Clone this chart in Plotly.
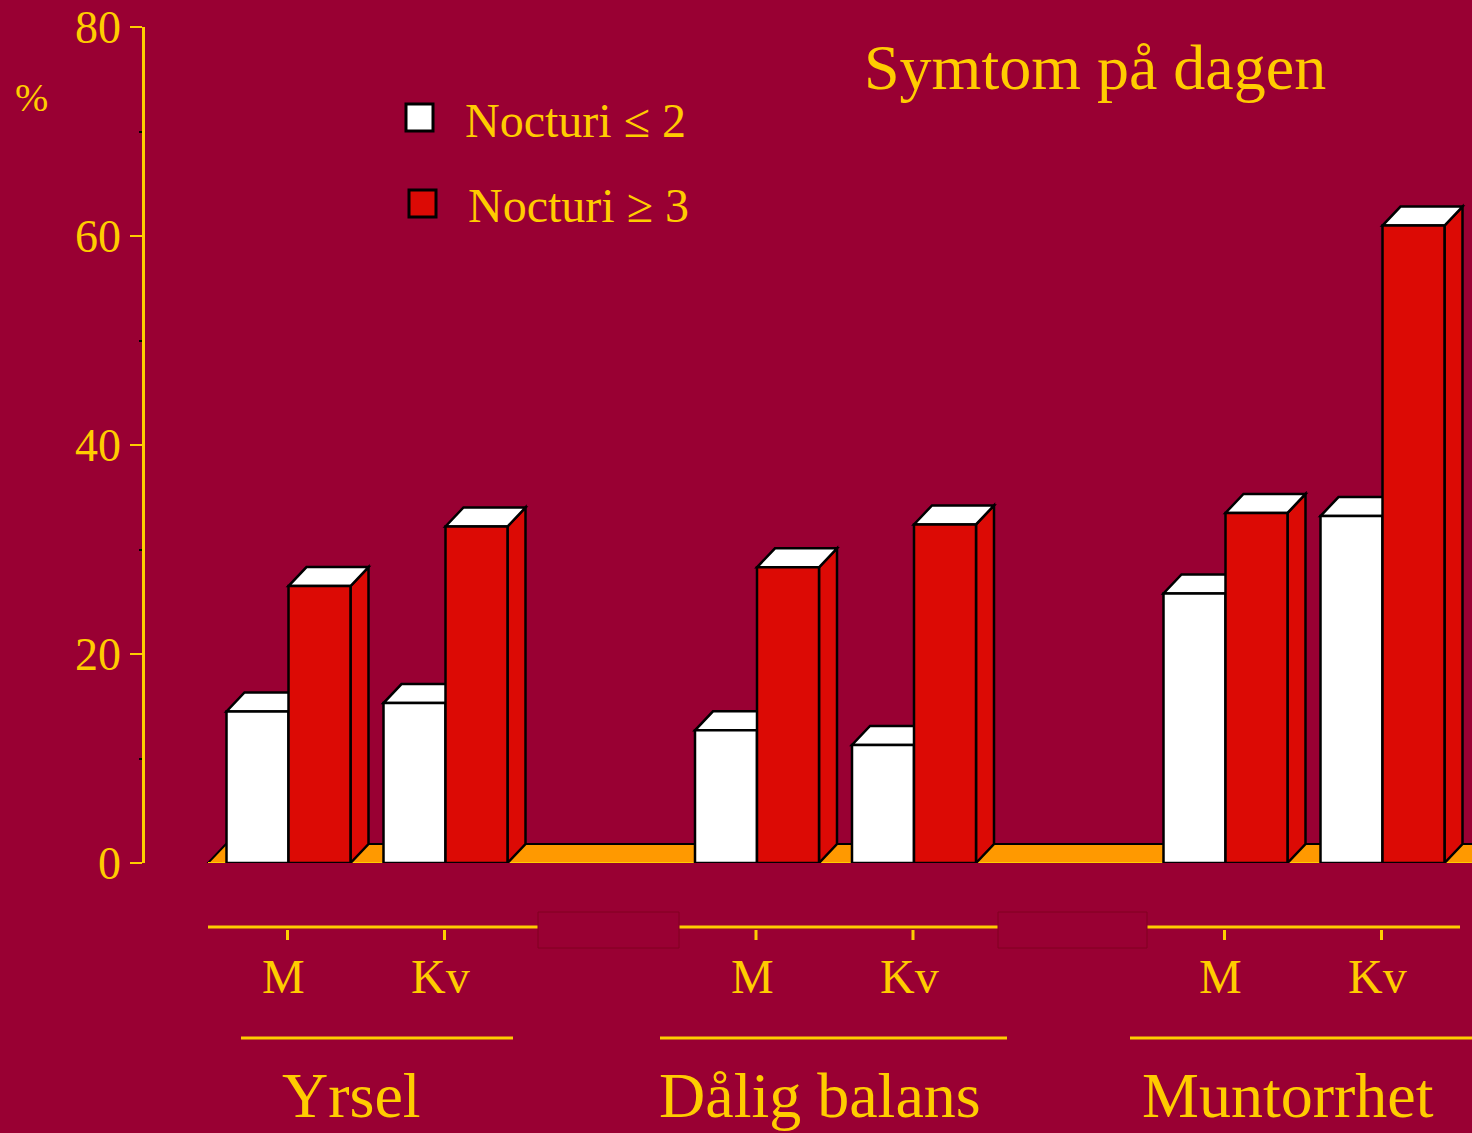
import plotly.graph_objects as go

# ---------------- data ----------------
groups = ["Yrsel", "Dålig balans", "Muntorrhet"]
sexes = ["M", "Kv"]
series_names = ["Nocturi \u2264 2", "Nocturi \u2265 3"]
white_vals = [14.5, 15.3, 12.7, 11.3, 25.8, 33.2]   # Nocturi <= 2  (M, Kv per group)
red_vals = [26.5, 32.2, 28.3, 32.4, 33.5, 61.0]     # Nocturi >= 3
y_ticks = [0, 20, 40, 60, 80]
title_text = "Symtom på dagen"
y_unit = "%"

# ---------------- style ----------------
BG = "#990033"
GOLD = "#FFCC00"
RED = "#DC0A05"
WHITE = "#FFFFFF"
ORANGE = "#FF9900"
FONT = "Liberation Serif"

FIG_W, FIG_H = 1472, 1133
M_L, M_T, M_B = 145, 27, 270
PLOT_W = FIG_W - M_L
PLOT_H = FIG_H - M_T - M_B
YMAX = 80

W = 62        # bar width (x units = px)
S = 157       # spacing between M and Kv pairs
G = 468.5     # spacing between groups
X0 = 81.5     # first bar left edge
DX = 18       # 3D depth in x
DY = 19 * YMAX / PLOT_H   # 3D depth in y units


def ppy(p):   # pixel y -> paper y
    return (FIG_H - M_B - p) / PLOT_H


def ppx(p):   # pixel x -> x data units
    return p - M_L


lefts = []
for g in range(len(groups)):
    for s in range(len(sexes)):
        lefts.append(X0 + g * G + s * S)
white_c = [l + W / 2 for l in lefts]
red_c = [l + 1.5 * W for l in lefts]

fig = go.Figure()
fig.add_trace(go.Bar(x=white_c, y=white_vals, width=W, name=series_names[0],
                     marker=dict(color=WHITE, line=dict(color="black", width=2.5)),
                     showlegend=False))
fig.add_trace(go.Bar(x=red_c, y=red_vals, width=W, name=series_names[1],
                     marker=dict(color=RED, line=dict(color="black", width=2.5)),
                     showlegend=False))

shapes = []
# floor
fx0 = ppx(208)
fx1 = PLOT_W + 50
shapes.append(dict(type="path", xref="x", yref="y", layer="below",
                   path=f"M {fx0},0 L {fx1},0 L {fx1 + DX},{DY} L {fx0 + DX},{DY} Z",
                   fillcolor=ORANGE, line=dict(color="black", width=2)))
shapes.append(dict(type="line", xref="x", yref="y", layer="below",
                   x0=fx0, x1=fx1, y0=0, y1=0, line=dict(color=GOLD, width=2)))

# 3D tops and sides
for i, l in enumerate(lefts):
    v = white_vals[i]
    x0, x1 = l, l + W
    shapes.append(dict(type="path", xref="x", yref="y", layer="below",
                       path=f"M {x0},{v} L {x1},{v} L {x1 + DX},{v + DY} L {x0 + DX},{v + DY} Z",
                       fillcolor=WHITE, line=dict(color="black", width=2.5)))
    v = red_vals[i]
    x0, x1 = l + W, l + 2 * W
    shapes.append(dict(type="path", xref="x", yref="y", layer="below",
                       path=f"M {x1},0 L {x1 + DX},{DY} L {x1 + DX},{v + DY} L {x1},{v} Z",
                       fillcolor=RED, line=dict(color="black", width=2.5)))
    shapes.append(dict(type="path", xref="x", yref="y", layer="below",
                       path=f"M {x0},{v} L {x1},{v} L {x1 + DX},{v + DY} L {x0 + DX},{v + DY} Z",
                       fillcolor=WHITE, line=dict(color="black", width=2.5)))

# category axis lines below
seg = [(208, 538), (679, 998), (1147, 1460)]
for a, b in seg:
    shapes.append(dict(type="line", xref="paper", yref="paper",
                       x0=(a - M_L) / PLOT_W, x1=(b - M_L) / PLOT_W,
                       y0=ppy(927), y1=ppy(927), line=dict(color=GOLD, width=3)))
for a, b in [(538, 679), (998, 1147)]:
    shapes.append(dict(type="rect", xref="paper", yref="paper",
                       x0=(a - M_L) / PLOT_W, x1=(b - M_L) / PLOT_W,
                       y0=ppy(948), y1=ppy(912), line=dict(color="#800020", width=1),
                       fillcolor="rgba(0,0,0,0)"))
for l in lefts:
    xc = (l + W - 1) / PLOT_W
    shapes.append(dict(type="line", xref="paper", yref="paper", x0=xc, x1=xc,
                       y0=ppy(930), y1=ppy(940), line=dict(color=GOLD, width=3)))
grp_lines = [(241, 513), (660, 1007), (1130, 1472)]
for a, b in grp_lines:
    shapes.append(dict(type="line", xref="paper", yref="paper",
                       x0=(a - M_L) / PLOT_W, x1=(b - M_L) / PLOT_W,
                       y0=ppy(1038), y1=ppy(1038), line=dict(color=GOLD, width=3)))

# legend squares
leg = [(406, 104, WHITE), (409, 190, RED)]
for (lx, ly, col) in leg:
    shapes.append(dict(type="rect", xref="paper", yref="paper",
                       x0=(lx - M_L) / PLOT_W, x1=(lx + 27 - M_L) / PLOT_W,
                       y0=ppy(ly + 27), y1=ppy(ly), fillcolor=col,
                       line=dict(color="black", width=3)))

annotations = []
for i, l in enumerate(lefts):
    annotations.append(dict(x=(l + W - 5) / PLOT_W, y=ppy(976), xref="paper", yref="paper",
                            text=sexes[i % 2], showarrow=False, xanchor="center", yanchor="middle",
                            font=dict(family=FONT, size=48, color=GOLD)))
for g, name in enumerate(groups):
    gc = X0 + g * G + (S + 2 * W) / 2
    annotations.append(dict(x=(gc - 16) / PLOT_W, y=ppy(1095), xref="paper", yref="paper",
                            text=name, showarrow=False, xanchor="center", yanchor="middle",
                            font=dict(family=FONT, size=64, color=GOLD)))
annotations.append(dict(x=(463 - M_L) / PLOT_W, y=ppy(121), xref="paper", yref="paper",
                        text=series_names[0], showarrow=False, xanchor="left", yanchor="middle",
                        font=dict(family=FONT, size=48, color=GOLD)))
annotations.append(dict(x=(466 - M_L) / PLOT_W, y=ppy(206), xref="paper", yref="paper",
                        text=series_names[1], showarrow=False, xanchor="left", yanchor="middle",
                        font=dict(family=FONT, size=48, color=GOLD)))
annotations.append(dict(x=(1095 - M_L) / PLOT_W, y=ppy(68), xref="paper", yref="paper",
                        text=title_text, showarrow=False, xanchor="center", yanchor="middle",
                        font=dict(family=FONT, size=64, color=GOLD)))
annotations.append(dict(x=(31 - M_L) / PLOT_W, y=ppy(97), xref="paper", yref="paper",
                        text=y_unit, showarrow=False, xanchor="center", yanchor="middle",
                        font=dict(family=FONT, size=40, color=GOLD)))

fig.update_layout(
    width=FIG_W, height=FIG_H,
    margin=dict(l=M_L, r=0, t=M_T, b=M_B, pad=0),
    paper_bgcolor=BG, plot_bgcolor=BG,
    barmode="overlay",
    showlegend=False,
    shapes=shapes,
    annotations=annotations,
    xaxis=dict(range=[0, PLOT_W], visible=False),
    yaxis=dict(range=[0, YMAX], tickvals=y_ticks, ticks="outside", ticklen=12,
               tickwidth=2, tickcolor=GOLD, showline=True, linecolor=GOLD, linewidth=2.5,
               showgrid=False, zeroline=False, ticklabelstandoff=0,
               tickfont=dict(family=FONT, size=46, color=GOLD),
               minor=dict(dtick=10, ticks="outside", ticklen=3, tickwidth=2,
                          tickcolor="black", showgrid=False)),
)

fig.write_html("out.html", config={"displayModeBar": False},
               post_script="document.body.style.margin='0';document.body.style.overflow='hidden';")
